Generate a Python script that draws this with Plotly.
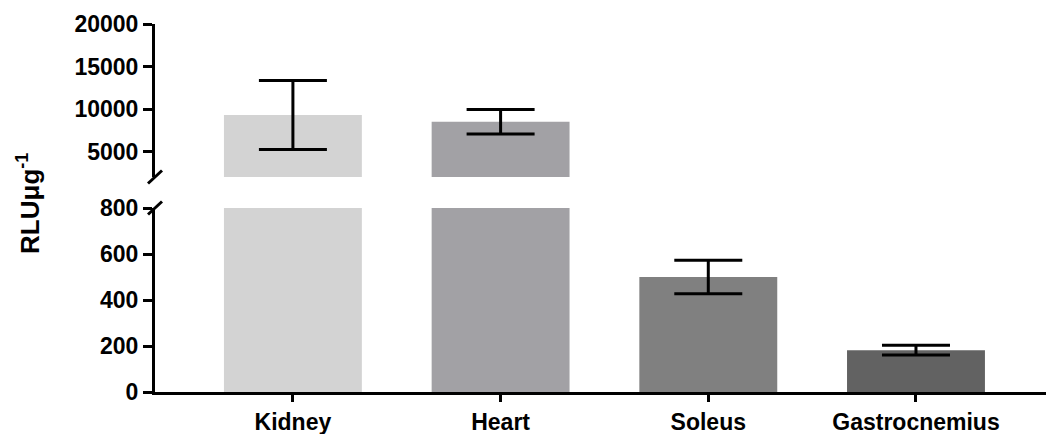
import plotly.graph_objects as go
from plotly.subplots import make_subplots

# Luciferase activity per tissue (mean ± error)
tissues = ["Kidney", "Heart", "Soleus", "Gastrocnemius"]
rlu_mean = [9300, 8500, 500, 182]
rlu_err = [4050, 1450, 73, 21]
bar_colors = ["#d3d3d3", "#a2a1a5", "#808080", "#626262"]

upper_ticks = [5000, 10000, 15000, 20000]
lower_ticks = [0, 200, 400, 600, 800]

FONT = "Liberation Sans, Arial, sans-serif"
tick_font = dict(family=FONT, size=23, color="black", weight="bold")

fig = make_subplots(rows=2, cols=1, shared_xaxes=True, vertical_spacing=0.0)

for row in (1, 2):
    fig.add_trace(
        go.Bar(
            x=tissues,
            y=rlu_mean,
            width=0.664,
            marker=dict(color=bar_colors, line=dict(width=0)),
            error_y=dict(type="data", array=rlu_err, visible=True,
                         color="black", thickness=3, width=34),
            showlegend=False,
            hoverinfo="x+y",
        ),
        row=row, col=1,
    )

axis_line = dict(showline=True, linecolor="black", linewidth=3,
                 showgrid=False, zeroline=False)

fig.update_layout(
    width=1046, height=434,
    margin=dict(l=155, r=0, t=24, b=42),
    plot_bgcolor="white", paper_bgcolor="white",
    xaxis=dict(visible=False, range=[-0.664, 3.626], domain=[0, 1]),
    xaxis2=dict(
        range=[-0.664, 3.626], domain=[0, 1],
        ticks="outside", ticklen=7, tickwidth=3, tickcolor="black",
        tickfont=tick_font, **axis_line,
    ),
    yaxis=dict(
        domain=[0.5842, 1.0], range=[2000, 20000],
        tickvals=upper_ticks, ticktext=[str(v) for v in upper_ticks],
        ticks="outside", ticklen=9, tickwidth=3,
        tickcolor="black", tickfont=tick_font, **axis_line,
    ),
    yaxis2=dict(
        domain=[0.0, 0.5], range=[0, 800],
        tickvals=lower_ticks, ticktext=[str(v) for v in lower_ticks],
        ticks="outside", ticklen=9, tickwidth=3,
        tickcolor="black", tickfont=tick_font, **axis_line,
    ),
)

# Axis-break slashes at the bottom of the upper axis and top of the lower axis
for yref in ("y domain", "y2 domain"):
    anchor = 0 if yref == "y domain" else 1
    fig.add_shape(
        type="line", xref="paper", yref=yref,
        xsizemode="pixel", ysizemode="pixel",
        xanchor=0, yanchor=anchor,
        x0=-7, x1=7, y0=-6.5, y1=6.5,
        line=dict(color="black", width=3),
    )

fig.add_annotation(
    text="RLUμg<sup>-1</sup>",
    xref="paper", yref="paper", x=0, y=0.511,
    xshift=-126, xanchor="center", yanchor="middle",
    textangle=-90, showarrow=False,
    font=dict(family=FONT, size=26, color="black", weight="bold"),
)

fig.write_html("out.html")
